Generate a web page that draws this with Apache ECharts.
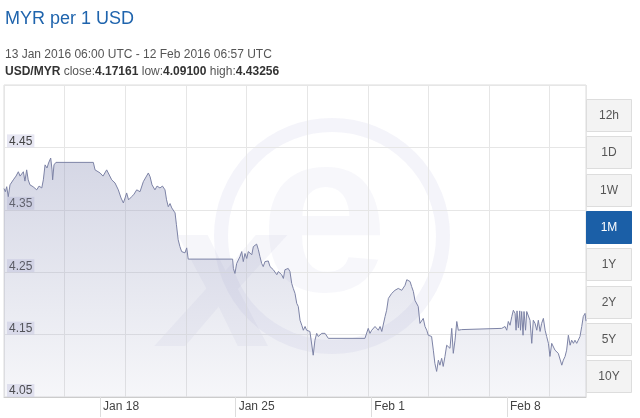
<!DOCTYPE html>
<html>
<head>
<meta charset="utf-8">
<script src="https://cdn.jsdelivr.net/npm/echarts@6/dist/echarts.min.js"></script>
<style>
html,body{margin:0;padding:0;background:#fff;}
#chart{width:640px;height:418px;}
</style>
</head>
<body>
<div id="chart"></div>
<script>
// ---- header texts ----
var titleText = 'MYR per 1 USD';
var rangeText = '13 Jan 2016 06:00 UTC - 12 Feb 2016 06:57 UTC';
var pairName = 'USD/MYR';
var closeValue = '4.17161';
var lowValue = '4.09100';
var highValue = '4.43256';

// ---- range buttons ----
var rangeButtons = ['12h', '1D', '1W', '1M', '1Y', '2Y', '5Y', '10Y'];
var selectedRange = '1M';

// ---- x axis: days since 13 Jan 2016 06:00 UTC ----
var xMaxDays = 30.04;
var xTickDays = [4.958, 11.958, 18.958, 25.958];
var xTickLabels = ['Jan 18', 'Jan 25', 'Feb 1', 'Feb 8'];

// ---- y axis ----
var yMin = 4.05, yMax = 4.55, yStep = 0.1;

// ---- series ----
var dayOffsets = [
0,0.07,0.14,0.22,0.31,0.48,0.62,0.74,0.83,0.91,1.00,1.08,1.17,1.25,1.34,1.50,1.69,1.81,1.95,2.03,
2.12,2.22,2.30,2.41,2.48,2.51,2.58,2.68,4.61,4.70,4.78,4.96,5.11,5.30,5.38,5.56,5.73,5.90,6.04,6.16,
6.25,6.33,6.43,6.59,6.71,6.85,7.02,7.19,7.30,7.45,7.54,7.64,7.79,7.90,8.05,8.18,8.31,8.39,8.48,8.57,
8.66,8.74,8.83,8.90,8.99,9.08,9.17,9.25,9.34,9.43,9.51,11.80,11.84,11.92,12.01,12.09,12.18,12.27,12.35,12.44,
12.53,12.61,12.70,12.79,12.87,12.96,13.04,13.13,13.21,13.30,13.38,13.47,13.56,13.64,13.73,13.82,13.90,13.99,14.08,14.16,
14.25,14.33,14.42,14.50,14.59,14.67,14.76,14.85,14.93,15.02,15.11,15.19,15.28,15.37,15.45,15.54,15.62,15.71,15.79,15.88,
15.96,16.05,16.14,16.22,16.31,16.40,16.48,16.57,16.66,16.74,18.63,18.72,18.80,18.89,18.98,19.06,19.15,19.24,19.32,19.41,
19.50,19.58,19.67,19.75,19.84,19.92,20.01,20.09,20.18,20.27,20.35,20.44,20.53,20.61,20.70,20.79,20.87,20.96,21.04,21.13,
21.21,21.30,21.38,21.47,21.56,21.64,21.73,21.82,21.90,21.99,22.07,22.16,22.24,22.33,22.42,22.50,22.59,22.67,22.76,22.85,
22.93,23.02,23.11,23.19,23.28,23.37,23.45,23.54,23.62,23.71,25.69,25.77,25.86,25.95,26.03,26.12,26.21,26.29,26.38,26.43,
26.48,26.55,26.62,26.66,26.72,26.79,26.84,26.92,26.98,27.06,27.15,27.24,27.32,27.41,27.50,27.58,27.67,27.75,27.84,27.93,
28.01,28.10,28.18,28.27,28.35,28.44,28.53,28.61,28.70,28.79,28.87,28.96,29.04,29.13,29.22,29.30,29.39,29.47,29.56,29.64,
29.73,29.82,29.90,29.99,30.04
];
var rates = [
4.384,4.379,4.387,4.371,4.390,4.398,4.404,4.411,4.404,4.401,4.411,4.396,4.414,4.398,4.390,4.387,4.382,4.388,4.385,4.398,
4.422,4.417,4.425,4.433,4.414,4.398,4.422,4.426,4.426,4.414,4.417,4.409,4.404,4.414,4.411,4.398,4.393,4.382,4.369,4.361,
4.369,4.377,4.366,4.371,4.375,4.382,4.379,4.395,4.401,4.409,4.403,4.390,4.382,4.388,4.385,4.388,4.382,4.366,4.355,4.360,
4.353,4.356,4.345,4.326,4.302,4.291,4.283,4.286,4.281,4.289,4.271,4.271,4.256,4.248,4.264,4.267,4.275,4.283,4.267,4.280,
4.272,4.283,4.286,4.278,4.291,4.294,4.295,4.286,4.275,4.264,4.259,4.267,4.264,4.268,4.259,4.262,4.254,4.251,4.246,4.251,
4.254,4.246,4.240,4.254,4.256,4.256,4.251,4.232,4.224,4.216,4.200,4.195,4.173,4.165,4.157,4.163,4.157,4.160,4.155,4.152,
4.117,4.141,4.152,4.147,4.149,4.152,4.149,4.152,4.149,4.144,4.144,4.141,4.160,4.152,4.157,4.155,4.163,4.165,4.157,4.163,
4.155,4.157,4.179,4.189,4.208,4.205,4.216,4.219,4.221,4.220,4.224,4.223,4.221,4.224,4.229,4.238,4.238,4.235,4.227,4.219,
4.205,4.208,4.195,4.168,4.165,4.176,4.163,4.157,4.149,4.149,4.147,4.125,4.104,4.091,4.109,4.101,4.112,4.099,4.115,4.133,
4.136,4.128,4.160,4.120,4.141,4.171,4.157,4.160,4.158,4.160,4.160,4.157,4.163,4.157,4.171,4.165,4.179,4.189,4.184,4.157,
4.188,4.161,4.188,4.157,4.187,4.149,4.187,4.157,4.187,4.184,4.173,4.136,4.173,4.168,4.157,4.173,4.155,4.168,4.176,4.157,
4.147,4.136,4.115,4.136,4.133,4.125,4.128,4.120,4.117,4.101,4.109,4.115,4.125,4.149,4.133,4.141,4.136,4.141,4.136,4.141,
4.147,4.163,4.179,4.184,4.17161
];

var FONT = '"Liberation Sans", Arial, sans-serif';
var seriesData = dayOffsets.map(function (d, i) { return [d, rates[i]]; });

var chart = echarts.init(document.getElementById('chart'), null, {renderer: 'canvas'});

// buttons
var btnElements = [];
rangeButtons.forEach(function (name, i) {
  var sel = name === selectedRange;
  var y0 = 99 + i * 37.35;
  btnElements.push({
    type: 'rect', shape: {x: 586.5, y: Math.round(y0) + 0.5, width: 45, height: 32},
    style: {fill: sel ? '#1b5fa7' : '#f3f3f3', stroke: sel ? '#1b5fa7' : '#dddddd', lineWidth: 1},
    z: 10
  });
  btnElements.push({
    type: 'text', x: 609, y: Math.round(y0) + 16.5,
    style: {text: name, fill: sel ? '#ffffff' : '#555555', font: '12px ' + FONT, align: 'center', verticalAlign: 'middle'},
    z: 11
  });
});

var option = {
  animation: false,
  backgroundColor: '#ffffff',
  graphic: [
    // watermark
    {type: 'circle', shape: {cx: 332, cy: 236, r: 111}, style: {fill: 'none', stroke: 'rgba(200,200,228,0.2)', lineWidth: 14}, z: 0, silent: true},
    {type: 'text', x: 324, y: 228, style: {text: 'e', font: 'bold 230px ' + FONT, fill: 'rgba(200,200,228,0.15)', align: 'center', verticalAlign: 'middle'}, z: 0, silent: true},
    {type: 'text', x: 222, y: 288, style: {text: 'x', font: 'italic bold 210px ' + FONT, fill: 'rgba(180,180,215,0.12)', align: 'center', verticalAlign: 'middle'}, z: 0, silent: true},
    // header
    {type: 'text', x: 5, y: 10, style: {text: titleText, font: '18px ' + FONT, fill: '#1f64ad', verticalAlign: 'top'}, z: 10},
    {type: 'text', x: 5, y: 49, style: {text: rangeText, font: '12px ' + FONT, fill: '#555555', verticalAlign: 'top'}, z: 10},
    {type: 'text', x: 5, y: 66, style: {
      text: '{b|' + pairName + '} close:{b|' + closeValue + '} low:{b|' + lowValue + '} high:{b|' + highValue + '}',
      font: '12px ' + FONT, fill: '#555555', verticalAlign: 'top',
      rich: {b: {fontWeight: 'bold', fill: '#333333', fontSize: 12, fontFamily: FONT}}
    }, z: 10}
  ].concat(btnElements),
  grid: {left: 4, right: 54, top: 85, bottom: 21, show: true, borderColor: '#dcdcdc', borderWidth: 1, backgroundColor: 'transparent'},
  xAxis: [
    {
      type: 'value', min: 0, max: xMaxDays,
      axisLine: {show: true, lineStyle: {color: '#cccccc'}},
      splitLine: {show: false},
      axisTick: {show: true, customValues: xTickDays, length: 20, lineStyle: {color: '#dddddd'}},
      axisLabel: {
        customValues: xTickDays, margin: 4, align: 'left', padding: [0, 0, 0, 3],
        color: '#444444', fontSize: 12, fontFamily: FONT,
        formatter: function (v) {
          var best = 0, bd = 1e9;
          xTickDays.forEach(function (d, i) { var dd = Math.abs(d - v); if (dd < bd) { bd = dd; best = i; } });
          return xTickLabels[best];
        }
      }
    },
    {
      type: 'value', min: 0, max: 9.6, interval: 1, position: 'top',
      axisLine: {show: false}, axisTick: {show: false}, axisLabel: {show: false},
      splitLine: {show: true, lineStyle: {color: '#e6e6e6'}}
    }
  ],
  yAxis: {
    type: 'value', min: yMin, max: yMax, interval: yStep,
    axisLine: {show: false}, axisTick: {show: false},
    splitLine: {show: true, lineStyle: {color: '#e6e6e6'}},
    axisLabel: {
      inside: true, verticalAlign: 'bottom', margin: 3, showMaxLabel: false,
      color: '#444444', fontSize: 12, fontFamily: FONT,
      backgroundColor: 'rgba(215,215,235,0.6)', padding: [1, 2, 0, 2],
      formatter: function (v) { return v.toFixed(2); }
    }
  },
  series: [{
    type: 'line', xAxisIndex: 0, data: seriesData, showSymbol: false, symbol: 'none',
    lineStyle: {color: '#7d83a6', width: 1},
    areaStyle: {
      color: new echarts.graphic.LinearGradient(0, 0, 0, 1, [
        {offset: 0, color: 'rgba(150,155,190,0.58)'},
        {offset: 1, color: 'rgba(150,155,190,0.12)'}
      ])
    },
    z: 3
  }]
};
chart.setOption(option);
</script>
</body>
</html>
